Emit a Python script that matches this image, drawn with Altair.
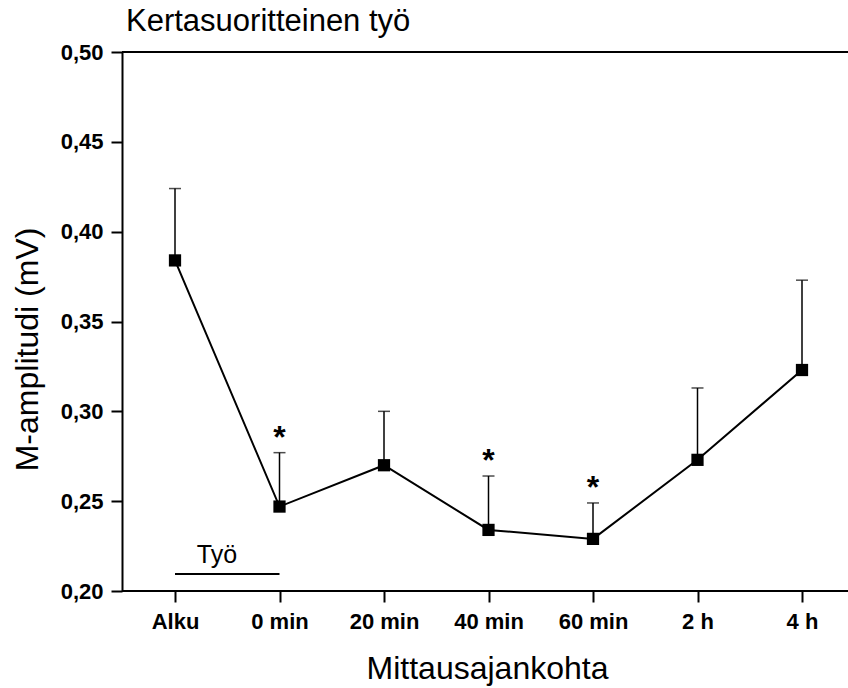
import altair as alt
import pandas as pd

# Measurement points and M-wave amplitudes (mean and mean + SD, mV)
categories = ["Alku", "0 min", "20 min", "40 min", "60 min", "2 h", "4 h"]
mean_amp = [0.384, 0.247, 0.270, 0.234, 0.229, 0.273, 0.323]
upper_amp = [0.424, 0.277, 0.300, 0.264, 0.249, 0.313, 0.373]
significant = [False, True, False, True, True, False, False]

# Work period marker
work_span = ["Alku", "0 min"]
work_level = 0.2095
work_label = "Työ"

y_ticks = [0.20, 0.25, 0.30, 0.35, 0.40, 0.45, 0.50]
y_domain = [0.20, 0.50]

title_text = "Kertasuoritteinen työ"
x_title = "Mittausajankohta"
y_title = "M-amplitudi (mV)"

FONT = "Liberation Sans"

df = pd.DataFrame({
    "aika": categories,
    "m": mean_amp,
    "ylä": upper_amp,
    "sig": significant,
})

x_scale = alt.Scale(type="point", domain=categories, range=[53, 680], padding=0)
y_scale = alt.Scale(domain=y_domain, nice=False, zero=False)

x_axis = alt.Axis(
    title=x_title,
    domain=False,
    grid=False,
    labelAngle=0,
    labelFont=FONT,
    labelFontSize=22,
    labelFontWeight="bold",
    labelColor="black",
    labelBaseline="alphabetic",
    labelPadding=26,
    tickSize=11,
    tickWidth=2,
    tickColor="black",
    titleFont=FONT,
    titleFontSize=32,
    titleFontWeight="normal",
    titleColor="black",
    titleBaseline="alphabetic",
    titleAlign="center",
    titleX=365,
    titleY=87,
)

y_axis = alt.Axis(
    title=y_title,
    values=y_ticks,
    labelExpr="replace(format(datum.value, '.2f'), '.', ',')",
    grid=False,
    domainColor="black",
    domainWidth=2,
    labelFont=FONT,
    labelFontSize=22,
    labelFontWeight="bold",
    labelColor="black",
    labelPadding=8,
    tickSize=11,
    tickWidth=2,
    tickColor="black",
    titleFont=FONT,
    titleFontSize=32,
    titleFontWeight="normal",
    titleColor="black",
    titleAngle=270,
    titleBaseline="alphabetic",
    titleAlign="center",
    titleX=-85,
    titleY=297,
)

X = alt.X("aika:N", scale=x_scale, axis=x_axis)
Y = alt.Y("m:Q", scale=y_scale, axis=y_axis)

base = alt.Chart(df)

# frame lines at the top and bottom of the plot
frame = alt.Chart(pd.DataFrame({"y": [y_domain[0], y_domain[1]]})).mark_rule(
    color="black", strokeWidth=2
).encode(y=alt.Y("y:Q", scale=y_scale))

err_rule = base.mark_rule(color="black", strokeWidth=1.5).encode(
    x=X, y=Y, y2="ylä:Q"
)
err_cap = base.mark_tick(color="black", thickness=1.5, size=12, orient="horizontal").encode(
    x=X, y=alt.Y("ylä:Q", scale=y_scale)
)
line = base.mark_line(color="black", strokeWidth=2).encode(x=X, y=Y)
points = base.mark_square(size=150, color="black", opacity=1).encode(x=X, y=Y)

stars = base.transform_filter("datum.sig").mark_text(
    text="*", font=FONT, fontSize=32, fontWeight="bold",
    baseline="alphabetic", dy=-5, color="black",
).encode(x=X, y=alt.Y("ylä:Q", scale=y_scale))

work_df = pd.DataFrame({"a": [work_span[0]], "b": [work_span[1]], "y": [work_level], "t": [work_label]})
work_line = alt.Chart(work_df).mark_rule(color="black", strokeWidth=2).encode(
    x=alt.X("a:N", scale=x_scale), x2="b:N", y=alt.Y("y:Q", scale=y_scale)
)
work_text = alt.Chart(work_df).mark_text(
    font=FONT, fontSize=25, baseline="alphabetic", align="center", dx=42, dy=-11, color="black"
).encode(x=alt.X("a:N", scale=x_scale), y=alt.Y("y:Q", scale=y_scale), text="t:N")

title_df = pd.DataFrame({"t": [title_text]})
title = alt.Chart(title_df).mark_text(
    font=FONT, fontSize=31, align="left", baseline="alphabetic", color="black"
).encode(x=alt.value(4), y=alt.value(-21), text="t:N")

chart = alt.layer(
    frame, err_rule, err_cap, line, points, stars, work_line, work_text, title
).properties(
    width=726,
    height=539,
    autosize=alt.AutoSizeParams(type="none"),
    padding={"left": 122, "top": 52, "right": 0, "bottom": 97},
    background="white",
).configure_view(stroke=None)

chart.save("out.html", embed_options={"renderer": "svg", "actions": False})
